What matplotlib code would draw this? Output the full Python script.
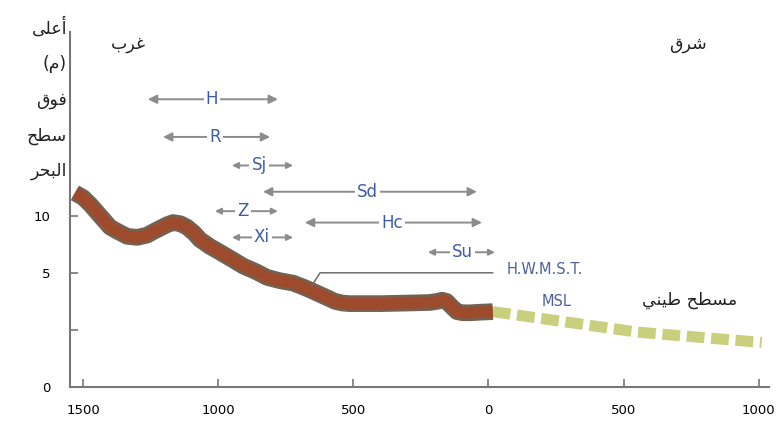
import matplotlib
matplotlib.use("Agg")
import matplotlib.pyplot as plt

# Coastal profile (west = negative distance, east = positive), metres
profile_x = [-1530, -1500, -1474, -1437, -1400, -1370, -1337, -1300, -1263, -1240,
             -1215, -1190, -1167, -1140, -1115, -1090, -1067, -1030, -993, -950,
             -908, -860, -819, -770, -723, -690, -660, -623, -595, -568, -540,
             -513, -400, -300, -217, -190, -172, -155, -143, -130, -117, -95,
             -69, -30, 16]
profile_y = [12.0, 11.6, 11.0, 10.0, 9.0, 8.6, 8.2, 8.1, 8.3, 8.6,
             8.9, 9.2, 9.4, 9.3, 9.0, 8.5, 7.9, 7.3, 6.8, 6.2,
             5.6, 5.1, 4.6, 4.3, 4.1, 3.8, 3.5, 3.1, 2.8, 2.5, 2.35,
             2.3, 2.3, 2.35, 2.4, 2.5, 2.6, 2.5, 2.2, 1.9, 1.6, 1.5,
             1.5, 1.55, 1.6]

# Mud flat (east of the shoreline)
mud_x = [16, 553, 1011]
mud_y = [1.6, -0.2, -1.1]

# Zone extents: label, start, end, height, label position
zones = ["H", "R", "Sj", "Sd", "Z", "Hc", "Xi", "Su"]
zone_start = [-1260, -1204, -949, -834, -1012, -679, -949, -224]
zone_end = [-779, -808, -723, -43, -779, -24, -723, 24]
zone_level = [20.2, 16.9, 14.4, 12.1, 10.4, 9.4, 8.1, 6.8]
zone_label_x = [-1023, -1012, -849, -449, -908, -357, -838, -95]

x_ticks = [-1500, -1000, -500, 0, 500, 1000]
x_tick_labels = ["1500", "1000", "500", "0", "500", "1000"]
y_ticks = [-5, 0, 5, 10]
y_tick_labels = ["0", "", "5", "10"]

# minimal Arabic shaping (contextual forms + right-to-left order)
FORMS = {
    "ا": ("\uFE8D", "\uFE8E", None, None),
    "أ": ("\uFE83", "\uFE84", None, None),
    "ب": ("\uFE8F", "\uFE90", "\uFE91", "\uFE92"),
    "ح": ("\uFEA1", "\uFEA2", "\uFEA3", "\uFEA4"),
    "ر": ("\uFEAD", "\uFEAE", None, None),
    "س": ("\uFEB1", "\uFEB2", "\uFEB3", "\uFEB4"),
    "ش": ("\uFEB5", "\uFEB6", "\uFEB7", "\uFEB8"),
    "ط": ("\uFEC1", "\uFEC2", "\uFEC3", "\uFEC4"),
    "ع": ("\uFEC9", "\uFECA", "\uFECB", "\uFECC"),
    "غ": ("\uFECD", "\uFECE", "\uFECF", "\uFED0"),
    "ف": ("\uFED1", "\uFED2", "\uFED3", "\uFED4"),
    "ق": ("\uFED5", "\uFED6", "\uFED7", "\uFED8"),
    "ل": ("\uFEDD", "\uFEDE", "\uFEDF", "\uFEE0"),
    "م": ("\uFEE1", "\uFEE2", "\uFEE3", "\uFEE4"),
    "ن": ("\uFEE5", "\uFEE6", "\uFEE7", "\uFEE8"),
    "و": ("\uFEED", "\uFEEE", None, None),
    "ى": ("\uFEEF", "\uFEF0", None, None),
    "ي": ("\uFEF1", "\uFEF2", "\uFEF3", "\uFEF4"),
}


def shape(text):
    lines = []
    for line in text.split("\n"):
        out = []
        for i, ch in enumerate(line):
            if ch not in FORMS:
                out.append(ch)
                continue
            prev = line[i - 1] if i > 0 else ""
            nxt = line[i + 1] if i + 1 < len(line) else ""
            iso, fin, ini, med = FORMS[ch]
            j_prev = prev in FORMS and FORMS[prev][2] is not None
            j_next = ini is not None and nxt in FORMS
            if j_prev and j_next:
                out.append(med)
            elif j_prev:
                out.append(fin)
            elif j_next:
                out.append(ini)
            else:
                out.append(iso)
        lines.append("".join(reversed(out)).translate(str.maketrans("()", ")(")))
    return "\n".join(lines)


latin = ["DejaVu Sans"]
arabic = ["DejaVu Sans"]
arrow_grey = "#8c8c8c"
zone_blue = "#3d5ca8"

fig = plt.figure(figsize=(7.79, 4.4), dpi=100)
ax = fig.add_axes([0.0899, 0.1205, 0.897, 0.807])

# profile: dark rim + red-brown core
ax.plot(profile_x, profile_y, color="#74614f", lw=12, solid_capstyle="butt",
        solid_joinstyle="round", zorder=3)
ax.plot(profile_x, profile_y, color="#9e4b2d", lw=8, solid_capstyle="butt",
        solid_joinstyle="round", zorder=4)

ax.plot(mud_x, mud_y, color="#c9cf7c", lw=8, dashes=(1.6, 0.6),
        dash_capstyle="butt", zorder=2)

for name, x0, x1, lvl, lx in zip(zones, zone_start, zone_end, zone_level, zone_label_x):
    small = (x1 - x0) < 300
    ax.annotate("", xy=(x0, lvl), xytext=(x1, lvl),
                arrowprops=dict(arrowstyle="<|-|>", color=arrow_grey, lw=1.4,
                                mutation_scale=9 if small else 13,
                                shrinkA=0, shrinkB=0), zorder=5)
    ax.text(lx, lvl, name, color=zone_blue, fontsize=12, family=latin,
            ha="center", va="center", zorder=6,
            bbox=dict(facecolor="white", edgecolor="none", pad=1.5))

# H.W.M.S.T. leader line
ax.plot([-653, -623, 15], [3.9, 5.0, 5.0], color="#6d6d6d", lw=1.1, zorder=5)
ax.text(208, 5.3, "H.W.M.S.T.", color="#4f6296", fontsize=10.5, family=latin,
        ha="center", va="center")
ax.text(252, 2.5, "MSL", color="#4f6296", fontsize=10.5, family=latin,
        ha="center", va="center")

ax.text(744, 2.6, shape("مسطح طيني"), fontsize=12.5, family=arabic, color="#222222",
        ha="center", va="center")
ax.text(-1333, 25.0, shape("غرب"), fontsize=12.5, family=arabic, color="#222222",
        ha="center", va="center")
ax.text(738, 25.0, shape("شرق"), fontsize=12.5, family=arabic, color="#222222",
        ha="center", va="center")

fig.text(67 / 779, 1 - 17 / 440, shape("أعلى\n(م)\nفوق\nسطح\nالبحر"), fontsize=12.5,
         family=arabic, color="#222222", ha="right", va="top", linespacing=2.25,
         multialignment="right")

ax.set_xlim(-1548, 1037)
ax.set_ylim(-5, 26.1)
ax.set_xticks(x_ticks)
ax.set_xticklabels(x_tick_labels, family=latin, fontsize=9.5)
ax.set_yticks(y_ticks)
ax.set_yticklabels(y_tick_labels, family=latin, fontsize=9.5)
ax.tick_params(direction="in", length=6, color="#777777", width=1.2, pad=12)
ax.tick_params(axis="y", pad=14)
for side in ["top", "right"]:
    ax.spines[side].set_visible(False)
for side in ["left", "bottom"]:
    ax.spines[side].set_color("#777777")
    ax.spines[side].set_linewidth(1.5)

fig.savefig("out.png", dpi=100)
